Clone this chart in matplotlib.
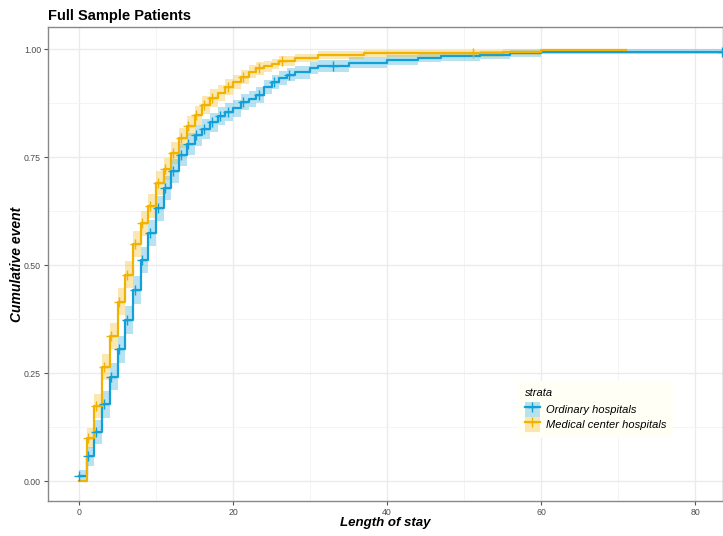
import numpy as np
import matplotlib
matplotlib.use('Agg')
import matplotlib.pyplot as plt
import matplotlib.patches as patches
from matplotlib.lines import Line2D

plt.rcParams['font.family'] = ['Liberation Sans', 'DejaVu Sans']

# step times and cumulative event values
ord_t = [0, 1, 2, 3, 4, 5, 6, 7, 8, 9, 10, 11, 12, 13, 14, 15, 16, 17, 18, 19, 20,
         21, 22, 23, 24, 25, 26, 27, 28, 30, 31, 35, 40, 44, 47, 52, 56, 60, 83.6]
ord_y = [0.013, 0.058, 0.113, 0.178, 0.242, 0.305, 0.373, 0.442, 0.512, 0.574, 0.632,
         0.678, 0.718, 0.755, 0.78, 0.8, 0.815, 0.83, 0.845, 0.855, 0.863,
         0.877, 0.885, 0.893, 0.912, 0.924, 0.933, 0.94, 0.946, 0.956, 0.96, 0.968,
         0.975, 0.98, 0.983, 0.986, 0.99, 0.994, 0.995]
ord_ci = [0.012, 0.022, 0.028, 0.031, 0.032, 0.032, 0.032, 0.032, 0.031, 0.030, 0.029,
          0.028, 0.027, 0.026, 0.025, 0.024, 0.023, 0.022, 0.021, 0.021, 0.020,
          0.019, 0.019, 0.018, 0.017, 0.016, 0.016, 0.015, 0.015, 0.014, 0.014, 0.013,
          0.012, 0.011, 0.010, 0.009, 0.008, 0.006, 0.005]

med_t = [0, 1, 2, 3, 4, 5, 6, 7, 8, 9, 10, 11, 12, 13, 14, 15, 16, 17, 18, 19, 20,
         21, 22, 23, 24, 25, 26, 28, 31, 37, 55, 60, 71]
med_y = [0.0, 0.1, 0.174, 0.265, 0.336, 0.415, 0.478, 0.549, 0.597, 0.636, 0.69,
         0.722, 0.76, 0.794, 0.822, 0.847, 0.87, 0.887, 0.898, 0.912, 0.924,
         0.935, 0.947, 0.955, 0.96, 0.966, 0.972, 0.979, 0.986, 0.99, 0.993, 0.997, 0.997]
med_ci = [0.0, 0.024, 0.028, 0.030, 0.031, 0.031, 0.031, 0.030, 0.029, 0.028, 0.027,
          0.026, 0.025, 0.024, 0.023, 0.022, 0.021, 0.020, 0.019, 0.018, 0.017,
          0.016, 0.015, 0.014, 0.013, 0.012, 0.011, 0.010, 0.009, 0.008, 0.006, 0.004, 0.004]

ord_cens = [0, 1.1, 2.2, 3.2, 4.2, 5.2, 6.2, 7.2, 8.2, 9.2, 10.2, 11.2, 12.2, 13.2, 14.2,
            15.2, 16.2, 17.3, 18.3, 19.3, 21.3, 23.3, 25.3, 27.3, 33.0, 83.5]
med_cens = [1.2, 2.2, 3.2, 4.2, 5.2, 6.2, 7.2, 8.2, 9.2, 10.2, 11.2, 12.2, 13.2, 14.2,
            15.2, 16.2, 17.3, 19.3, 21.3, 23.3, 26.3, 51.2]

labels = ['Ordinary hospitals', 'Medical center hospitals']
colors = ['#12A0D7', '#F2B200']

fig = plt.figure(figsize=(7.23, 5.36), dpi=100)
ax = fig.add_axes([48/723, 1-501/536, 675/723, 474/536])

groups = [(ord_t, ord_y, ord_ci, ord_cens), (med_t, med_y, med_ci, med_cens)]
for (t, y, ci, cens), col in zip(groups, colors):
    t = np.array(t); y = np.array(y); ci = np.array(ci)
    ax.fill_between(t, y - ci, np.minimum(y + ci, 1.0), step='post', color=col,
                    alpha=0.3, linewidth=0, zorder=2)
    ax.step(t, y, where='post', color=col, linewidth=1.6, zorder=3)
    idx = np.searchsorted(t, cens, side='right') - 1
    ax.plot(cens, y[idx], linestyle='none', marker='+', color=col, markersize=7,
            markeredgewidth=1.0, zorder=4)

ax.set_xlim(-4.03, 83.6)
ax.set_ylim(-0.046, 1.051)
ax.set_xticks([0, 20, 40, 60, 80])
ax.set_xticks([10, 30, 50, 70], minor=True)
ax.set_yticks([0, 0.25, 0.5, 0.75, 1.0])
ax.set_yticklabels(['0.00', '0.25', '0.50', '0.75', '1.00'])
ax.set_yticks([0.125, 0.375, 0.625, 0.875], minor=True)
ax.grid(which='major', color='#EBEBEB', linewidth=1.0, zorder=0)
ax.grid(which='minor', color='#F2F2F2', linewidth=0.6, zorder=0)
ax.set_axisbelow(True)
ax.tick_params(which='major', direction='out', length=3, width=0.8, color='#555555',
               labelsize=6.3, labelcolor='#4D4D4D', pad=2)
ax.tick_params(which='minor', length=0)
for s in ax.spines.values():
    s.set_color('#888888')
    s.set_linewidth(1.0)

ax.set_xlabel('Length of stay', fontsize=9.5, fontweight='bold', style='italic')
ax.set_ylabel('Cumulative event', fontsize=10, fontweight='bold', style='italic')
ax.xaxis.set_label_coords(0.5, -0.046)
ax.yaxis.set_label_coords(-0.046, 0.5)
ax.xaxis.label.set_va('center')
ax.yaxis.label.set_va('center')
fig.text(48/723, 1-16/536, 'Full Sample Patients', fontsize=10.5, fontweight='bold',
         va='center', ha='left')

handles = []
for col in colors:
    p = patches.Patch(facecolor=col, alpha=0.3, edgecolor='none')
    l = Line2D([], [], color=col, linewidth=1.6, marker='+', markersize=7)
    handles.append((p, l))
leg = ax.legend(handles, labels, title='strata', loc='upper left',
                bbox_to_anchor=(0.688, 0.265), frameon=True, fancybox=False,
                prop={'style': 'italic', 'size': 8}, handlelength=1.4,
                handleheight=1.7, handletextpad=0.5, borderpad=0.6, labelspacing=0.0)
leg.get_title().set_fontstyle('italic')
leg.get_title().set_fontsize(8)
leg._legend_box.align = 'left'
leg._legend_box.sep = 3
leg.get_frame().set_facecolor('#FFFFF6')
leg.get_frame().set_edgecolor('none')
leg.get_frame().set_alpha(1)

fig.savefig('out.png', dpi=100)
